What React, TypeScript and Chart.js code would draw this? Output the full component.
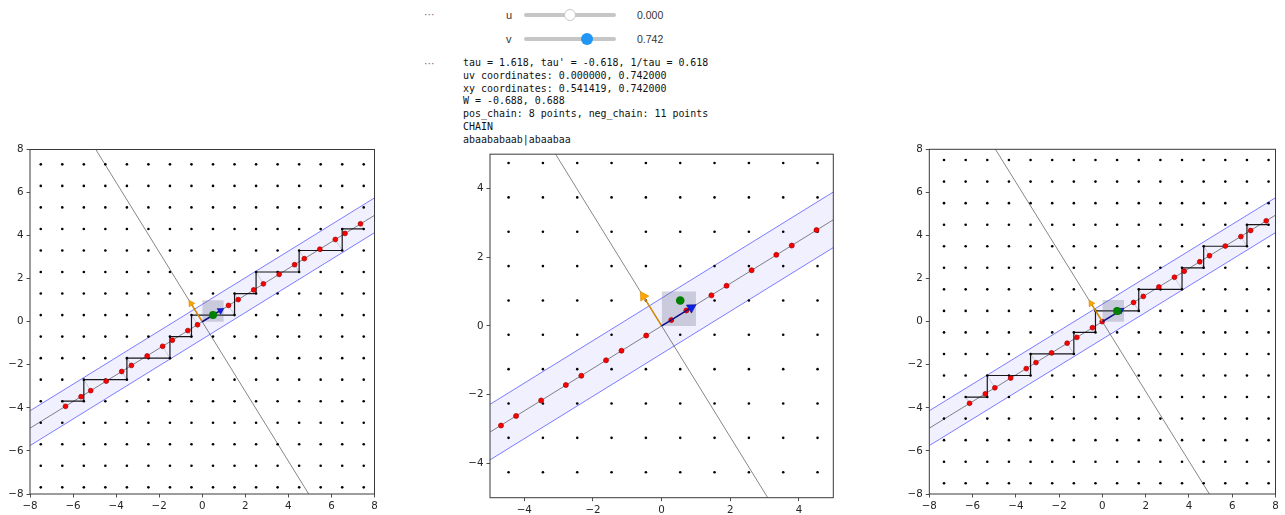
import React, { useEffect, useRef } from "react";
import { Chart, registerables } from "chart.js";

Chart.register(...registerables);
Chart.defaults.font.family = "'DejaVu Sans', sans-serif";

// ---------------- shared values ----------------
const OUTER_TICKS = [-8, -6, -4, -2, 0, 2, 4, 6, 8];
const MIDDLE_TICKS = [-4, -2, 0, 2, 4];

const BLUE_TIP = [1.0, 0.618];
const ORANGE_TIP = [-0.618, 1.0];
const UNIT_SQUARE_X = [0, 1];
const UNIT_SQUARE_Y = [0, 1];

// lines of the outer panels (x from -8 to 8)
const OUTER_LINE_X = [-8, 8];
const OUTER_CENTER_Y = [-4.944, 4.944];
const OUTER_UPPER_Y = [-4.135, 5.753];
const OUTER_LOWER_Y = [-5.753, 4.135];
const OUTER_PERP_X = [-4.944, 4.944];
const OUTER_PERP_Y = [8, -8];

// lines of the middle panel (x from -5 to 5)
const MID_LINE_X = [-5, 5];
const MID_CENTER_Y = [-3.09, 3.09];
const MID_UPPER_Y = [-2.281, 3.899];
const MID_LOWER_Y = [-3.899, 2.281];
const MID_PERP_X = [-3.09, 3.09];
const MID_PERP_Y = [5, -5];

// ---------------- left panel ----------------
const LEFT_LATTICE_X = [-7.5, -6.5, -5.5, -4.5, -3.5, -2.5, -1.5, -0.5, 0.5, 1.5, 2.5, 3.5, 4.5, 5.5, 6.5, 7.5];
const LEFT_LATTICE_Y = [-7.69, -6.69, -5.69, -4.69, -3.69, -2.69, -1.69, -0.69, 0.31, 1.31, 2.31, 3.31, 4.31, 5.31, 6.31, 7.31];
const LEFT_CHAIN_X = [-6.5, -5.5, -5.5, -4.5, -3.5, -3.5, -2.5, -1.5, -1.5, -0.5, -0.5, 0.5, 1.5, 1.5, 2.5, 2.5, 3.5, 4.5, 4.5, 5.5, 6.5, 6.5, 7.5];
const LEFT_CHAIN_Y = [-3.69, -3.69, -2.69, -2.69, -2.69, -1.69, -1.69, -1.69, -0.69, -0.69, 0.31, 0.31, 0.31, 1.31, 1.31, 2.31, 2.31, 2.31, 3.31, 3.31, 3.31, 4.31, 4.31];
const LEFT_PROJ_X = [-6.35, -5.63, -5.18, -4.46, -3.74, -3.29, -2.56, -1.84, -1.39, -0.67, -0.22, 0.5, 1.22, 1.67, 2.39, 2.84, 3.57, 4.29, 4.74, 5.46, 6.18, 6.63, 7.35];
const LEFT_PROJ_Y = [-3.93, -3.48, -3.2, -2.76, -2.31, -2.03, -1.59, -1.14, -0.86, -0.41, -0.14, 0.31, 0.76, 1.03, 1.48, 1.76, 2.2, 2.65, 2.93, 3.37, 3.82, 4.1, 4.55];
const LEFT_POINT = [0.5, 0.31];

// ---------------- middle panel ----------------
const MID_LATTICE_X = [-4.459, -3.459, -2.459, -1.459, -0.459, 0.541, 1.541, 2.541, 3.541, 4.541];
const MID_LATTICE_Y = [-4.258, -3.258, -2.258, -1.258, -0.258, 0.742, 1.742, 2.742, 3.742, 4.742];
const MID_PROJ_X = [-4.68, -4.24, -3.51, -2.79, -2.34, -1.62, -1.17, -0.45, 0.28, 0.72, 1.45, 1.89, 2.62, 3.34, 3.79, 4.51];
const MID_PROJ_Y = [-2.9, -2.62, -2.17, -1.72, -1.45, -1.0, -0.72, -0.28, 0.17, 0.45, 0.89, 1.17, 1.62, 2.07, 2.34, 2.79];
const MID_POINT = [0.541, 0.742];

// ---------------- right panel ----------------
const RIGHT_LATTICE_X = [-7.32, -6.32, -5.32, -4.32, -3.32, -2.32, -1.32, -0.32, 0.68, 1.68, 2.68, 3.68, 4.68, 5.68, 6.68, 7.68];
const RIGHT_LATTICE_Y = [-7.5, -6.5, -5.5, -4.5, -3.5, -2.5, -1.5, -0.5, 0.5, 1.5, 2.5, 3.5, 4.5, 5.5, 6.5, 7.5];
const RIGHT_CHAIN_X = [-6.32, -5.32, -5.32, -4.32, -3.32, -3.32, -2.32, -1.32, -1.32, -0.32, -0.32, 0.68, 1.68, 1.68, 2.68, 3.68, 3.68, 4.68, 4.68, 5.68, 6.68, 6.68, 7.68];
const RIGHT_CHAIN_Y = [-3.5, -3.5, -2.5, -2.5, -2.5, -1.5, -1.5, -1.5, -0.5, -0.5, 0.5, 0.5, 0.5, 1.5, 1.5, 1.5, 2.5, 2.5, 3.5, 3.5, 3.5, 4.5, 4.5];
const RIGHT_PROJ_X = [-6.14, -5.41, -4.97, -4.24, -3.52, -3.07, -2.35, -1.63, -1.18, -0.46, -0.01, 0.72, 1.44, 1.89, 2.61, 3.33, 3.78, 4.5, 4.95, 5.68, 6.4, 6.85, 7.57];
const RIGHT_PROJ_Y = [-3.79, -3.35, -3.07, -2.62, -2.18, -1.9, -1.45, -1.0, -0.73, -0.28, 0.0, 0.44, 0.89, 1.17, 1.61, 2.06, 2.34, 2.78, 3.06, 3.51, 3.95, 4.23, 4.68];
const RIGHT_POINT = [0.68, 0.5];

// ---------------- header texts ----------------
const INFO_LINES = [
  "tau = 1.618, tau' = -0.618, 1/tau = 0.618",
  "uv coordinates: 0.000000, 0.742000",
  "xy coordinates: 0.541419, 0.742000",
  "W = -0.688, 0.688",
  "pos_chain: 8 points, neg_chain: 11 points",
  "CHAIN",
  "abaababaab|abaabaa",
];

const xy = (xs: number[], ys: number[]) => xs.map((x, i) => ({ x, y: ys[i] }));
const grid = (xs: number[], ys: number[]) => ys.flatMap((y) => xs.map((x) => ({ x, y })));
const fmt = (v: number) => (v < 0 ? "\u2212" + Math.abs(v) : String(v));

type Panel = {
  min: number;
  max: number;
  ticks: number[];
  lineX: number[];
  centerY: number[];
  upperY: number[];
  lowerY: number[];
  perpX: number[];
  perpY: number[];
  latticeX: number[];
  latticeY: number[];
  chainX?: number[];
  chainY?: number[];
  projX: number[];
  projY: number[];
  point: number[];
  padding: { left: number; top: number; right: number; bottom: number };
  yWidth: number;
  xHeight: number;
  pxPerUnit: number;
  headR: number;
  redR: number;
  greenR: number;
};

const framePlugin = {
  id: "frame",
  afterDatasetsDraw(chart: any) {
    const { ctx, chartArea: a } = chart;
    ctx.save();
    ctx.strokeStyle = "#3a3a3a";
    ctx.lineWidth = 1;
    ctx.strokeRect(a.left, a.top, a.right - a.left, a.bottom - a.top);
    ctx.restore();
  },
};

function buildConfig(p: Panel): any {
  const ds: any[] = [];
  const line = (data: any[], color: string, width: number, order: number, extra: any = {}) => ({
    type: "line",
    data,
    borderColor: color,
    borderWidth: width,
    pointRadius: 0,
    fill: false,
    tension: 0,
    order,
    ...extra,
  });

  ds.push(
    line(xy(p.lineX, p.upperY), "rgba(40,40,255,0.6)", 1, 40, {
      fill: "+1",
      backgroundColor: "rgba(60,60,255,0.08)",
    })
  );
  ds.push(line(xy(p.lineX, p.lowerY), "rgba(40,40,255,0.6)", 1, 40));
  ds.push(line(xy(p.lineX, p.centerY), "rgba(0,0,0,0.6)", 0.8, 38));
  ds.push(line(xy(p.perpX, p.perpY), "rgba(0,0,0,0.6)", 0.8, 38));
  ds.push({
    type: "scatter",
    data: grid(p.latticeX, p.latticeY),
    pointRadius: 1.3,
    backgroundColor: "#000",
    borderWidth: 0,
    order: 36,
  });
  if (p.chainX && p.chainY) {
    p.chainX.forEach((x, i) =>
      ds.push(
        line(
          [
            { x, y: p.chainY![i] },
            { x: p.projX[i], y: p.projY[i] },
          ],
          "rgba(0,0,0,0.22)",
          0.7,
          34
        )
      )
    );
    ds.push(line(xy(p.chainX, p.chainY), "rgba(0,0,0,0.9)", 1.2, 32));
  }
  // unit square
  ds.push(
    line(xy(UNIT_SQUARE_X, [UNIT_SQUARE_Y[1], UNIT_SQUARE_Y[1]]), "transparent", 0, 30, {
      fill: { value: UNIT_SQUARE_Y[0] },
      backgroundColor: "rgba(100,100,130,0.27)",
    })
  );
  // red projected points
  ds.push({
    type: "scatter",
    data: xy(p.projX, p.projY),
    pointRadius: p.redR,
    backgroundColor: "#ff0000",
    borderColor: "#a00000",
    borderWidth: 0.7,
    order: 20,
  });
  // arrows
  const arrow = (tip: number[], shaft: string, head: string, headBorder: string) => {
    const len = Math.hypot(tip[0], tip[1]);
    const off = p.headR / p.pxPerUnit;
    const c = [tip[0] - (tip[0] / len) * off, tip[1] - (tip[1] / len) * off];
    const rot = 90 - (Math.atan2(tip[1], tip[0]) * 180) / Math.PI;
    ds.push(line([{ x: 0, y: 0 }, { x: c[0], y: c[1] }], shaft, 1.5, 12));
    ds.push({
      type: "scatter",
      data: [{ x: c[0], y: c[1] }],
      pointStyle: "triangle",
      pointRadius: p.headR,
      pointRotation: rot,
      backgroundColor: head,
      borderColor: headBorder,
      borderWidth: 0.6,
      order: 11,
    });
  };
  arrow(BLUE_TIP, "#10108a", "#1020e8", "#0a0a90");
  arrow(ORANGE_TIP, "#d88a00", "#ffa500", "#d08a00");
  // current point
  ds.push({
    type: "scatter",
    data: [{ x: p.point[0], y: p.point[1] }],
    pointRadius: p.greenR,
    backgroundColor: "#008000",
    borderWidth: 0,
    order: 2,
  });

  const axis = (isX: boolean) => ({
    type: "linear",
    min: p.min,
    max: p.max,
    afterBuildTicks: (s: any) => {
      s.ticks = p.ticks.map((v) => ({ value: v }));
    },
    afterFit: (s: any) => {
      if (isX) s.height = p.xHeight;
      else s.width = p.yWidth;
    },
    grid: {
      display: true,
      drawOnChartArea: false,
      drawTicks: true,
      tickLength: 3.5,
      tickWidth: 0.8,
      tickColor: "#222",
    },
    border: { display: false },
    ticks: {
      autoSkip: false,
      maxRotation: 0,
      minRotation: 0,
      padding: 3,
      color: "#262626",
      font: { family: "'DejaVu Sans', sans-serif", size: 10.3 },
      callback: (v: number) => fmt(v),
    },
  });

  return {
    type: "scatter",
    data: { datasets: ds },
    options: {
      responsive: false,
      maintainAspectRatio: false,
      animation: false,
      events: [],
      layout: { padding: p.padding },
      plugins: { legend: { display: false }, tooltip: { enabled: false } },
      scales: { x: axis(true), y: axis(false) },
    },
    plugins: [framePlugin],
  };
}

const LEFT_PANEL: Panel = {
  min: -8,
  max: 8,
  ticks: OUTER_TICKS,
  lineX: OUTER_LINE_X,
  centerY: OUTER_CENTER_Y,
  upperY: OUTER_UPPER_Y,
  lowerY: OUTER_LOWER_Y,
  perpX: OUTER_PERP_X,
  perpY: OUTER_PERP_Y,
  latticeX: LEFT_LATTICE_X,
  latticeY: LEFT_LATTICE_Y,
  chainX: LEFT_CHAIN_X,
  chainY: LEFT_CHAIN_Y,
  projX: LEFT_PROJ_X,
  projY: LEFT_PROJ_Y,
  point: LEFT_POINT,
  padding: { left: 0, top: 9.5, right: 10.5, bottom: 0 },
  yWidth: 30,
  xHeight: 21,
  pxPerUnit: 21.53,
  headR: 3.8,
  redR: 2.4,
  greenR: 4,
};

const MID_PANEL: Panel = {
  min: -5,
  max: 5,
  ticks: MIDDLE_TICKS,
  lineX: MID_LINE_X,
  centerY: MID_CENTER_Y,
  upperY: MID_UPPER_Y,
  lowerY: MID_LOWER_Y,
  perpX: MID_PERP_X,
  perpY: MID_PERP_Y,
  latticeX: MID_LATTICE_X,
  latticeY: MID_LATTICE_Y,
  projX: MID_PROJ_X,
  projY: MID_PROJ_Y,
  point: MID_POINT,
  padding: { left: 0, top: 9, right: 11.7, bottom: 0 },
  yWidth: 35,
  xHeight: 17.3,
  pxPerUnit: 34.33,
  headR: 5.5,
  redR: 2.5,
  greenR: 4.3,
};

const RIGHT_PANEL: Panel = {
  min: -8,
  max: 8,
  ticks: OUTER_TICKS,
  lineX: OUTER_LINE_X,
  centerY: OUTER_CENTER_Y,
  upperY: OUTER_UPPER_Y,
  lowerY: OUTER_LOWER_Y,
  perpX: OUTER_PERP_X,
  perpY: OUTER_PERP_Y,
  latticeX: RIGHT_LATTICE_X,
  latticeY: RIGHT_LATTICE_Y,
  chainX: RIGHT_CHAIN_X,
  chainY: RIGHT_CHAIN_Y,
  projX: RIGHT_PROJ_X,
  projY: RIGHT_PROJ_Y,
  point: RIGHT_POINT,
  padding: { left: 0, top: 9.3, right: 9.5, bottom: 0 },
  yWidth: 34.3,
  xHeight: 21,
  pxPerUnit: 21.64,
  headR: 3.8,
  redR: 2.4,
  greenR: 4,
};

const abs = (left: number, top: number, extra: any = {}) => ({ position: "absolute" as const, left, top, ...extra });

function Slider({ top, label, value, knobX, active }: { top: number; label: string; value: string; knobX: number; active: boolean }) {
  const sans = "'Liberation Sans', Arial, sans-serif";
  return (
    <>
      <div style={abs(506, top - 7, { font: `11px ${sans}`, color: "#333", lineHeight: "14px" })}>{label}</div>
      <div style={abs(524, top - 2, { width: 92, height: 4, borderRadius: 2, background: "#c6c6c6" })} />
      <div
        style={abs(knobX - 6, top - 6, {
          width: 12,
          height: 12,
          borderRadius: 6,
          boxSizing: "border-box",
          background: active ? "#2196f3" : "#fff",
          border: active ? "none" : "1px solid #c8c8c8",
        })}
      />
      <div style={abs(637, top - 7, { font: `10.5px ${sans}`, color: "#333", lineHeight: "14px" })}>{value}</div>
    </>
  );
}

export default function App() {
  const leftRef = useRef<HTMLCanvasElement>(null);
  const midRef = useRef<HTMLCanvasElement>(null);
  const rightRef = useRef<HTMLCanvasElement>(null);

  useEffect(() => {
    const charts = [
      new Chart(leftRef.current!, buildConfig(LEFT_PANEL)),
      new Chart(midRef.current!, buildConfig(MID_PANEL)),
      new Chart(rightRef.current!, buildConfig(RIGHT_PANEL)),
    ];
    return () => charts.forEach((c) => c.destroy());
  }, []);

  const dots = { font: "11px 'DejaVu Sans', sans-serif", color: "#777", lineHeight: "12px" };

  return (
    <div style={abs(0, 0, { width: 1285, height: 515, background: "#fff", overflow: "hidden" })}>
      <div style={abs(424, 9, dots)}>···</div>
      <Slider top={15} label="u" value="0.000" knobX={570} active={false} />
      <Slider top={38.5} label="v" value="0.742" knobX={587} active={true} />
      <div style={abs(424, 58, dots)}>···</div>
      <div
        style={abs(463, 57, {
          font: "9.95px 'DejaVu Sans Mono', monospace",
          lineHeight: "12.8px",
          color: "#111",
          whiteSpace: "pre",
        })}
      >
        {INFO_LINES.map((t, i) => (
          <div key={i}>{t}</div>
        ))}
      </div>
      <canvas ref={leftRef} width={385} height={375} style={abs(0, 140, { width: 385, height: 375 })} />
      <canvas ref={midRef} width={390} height={370} style={abs(455, 145, { width: 390, height: 370 })} />
      <canvas ref={rightRef} width={390} height={375} style={abs(895, 140, { width: 390, height: 375 })} />
    </div>
  );
}
